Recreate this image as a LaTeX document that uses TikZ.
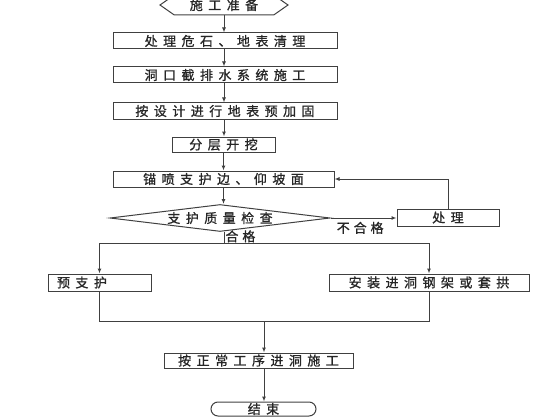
\documentclass[tikz,border=0pt]{standalone}
\usepackage{fontspec}
\usepackage{tikz}
\usetikzlibrary{shapes.geometric,shapes.symbols,shapes.misc,arrows.meta}
\newfontfamily\cjk[LetterSpace=42,FakeBold=1]{Noto Sans CJK SC}
\newfontfamily\cjklabel[LetterSpace=30,FakeBold=1]{Noto Sans CJK SC}
\begin{document}
\begin{tikzpicture}[x=1pt,y=-1pt,
    every node/.style={font=\cjk\fontsize{13}{13}\selectfont, text=black!85},
    stepbox/.style={rectangle, draw=black!75, line width=1pt, inner sep=0pt, minimum height=16},
    flow/.style={draw=black!75, line width=1pt},
    arr/.style={flow, -{Latex[length=5pt,width=4pt]}}]
    \useasboundingbox (0,0) rectangle (560,420);
                    % Nodes
                    \node[signal, signal to=west and east, signal pointer angle=70, draw=black!75, line width=1pt, minimum width=128, minimum height=20, inner sep=0pt] (start) at (224,5) {施工准备};
                    \node[stepbox, minimum width=224] (clear) at (225,41) {处理危石、地表清理};
                    \node[stepbox, minimum width=224] (drain) at (225,75) {洞口截排水系统施工};
                    \node[stepbox, minimum width=224] (reinf) at (225,111) {按设计进行地表预加固};
                    \node[stepbox, minimum width=103, minimum height=15] (dig) at (223.5,144.5) {分层开挖};
                    \node[stepbox, minimum width=221] (spray) at (223.5,179) {锚喷支护边、仰坡面};
                    \node[diamond, draw=black!75, line width=1pt, aspect=8, inner sep=0pt, minimum width=220, minimum height=27] (check) at (220,218) {支护质量检查};
                    \node[stepbox, minimum width=102, minimum height=17] (fix) at (448,217.5) {处理};
                    \node[stepbox, minimum width=103, minimum height=17, text width=85, align=left] (pre) at (99.5,282.5) {预支护};
                    \node[stepbox, minimum width=200, minimum height=17] (arch) at (429,282.5) {安装进洞钢架或套拱};
                    \node[stepbox, minimum width=189, minimum height=15] (normal) at (258.5,360.5) {按正常工序进洞施工};
                    \node[rounded rectangle, draw=black!75, line width=1pt, inner sep=0pt, minimum width=105, minimum height=14] (stop) at (263.5,409) {结束};
                    \coordinate (split) at (224,243);
                    \coordinate (join) at (264,321);
                    % Edges
                    \draw[arr] ([xshift=-1]clear.north |- start.south) -- ([xshift=-1]clear.north);
                    \draw[arr] ([xshift=-1]clear.south) -- ([xshift=-1]drain.north);
                    \draw[arr] ([xshift=-1]drain.south) -- ([xshift=-1]reinf.north);
                    \draw[arr] ([xshift=-1]reinf.south) -- ([xshift=-1]reinf.south |- dig.north);
                    \draw[arr] (dig.south) -- (spray.north);
                    \draw[arr] (spray.south) -- (spray.south |- check.north);
                    \draw[arr] (check.east) -- node[below, pos=0.45, font=\cjklabel\fontsize{13}{13}\selectfont] {不合格} (check.east -| fix.west);
                    \draw[arr] (fix.north) |- (spray.east);
                    \draw[flow] (split |- check.south) -- node[right, pos=0.4, inner sep=1pt, font=\cjklabel\fontsize{13}{13}\selectfont] {合格} (split);
                    \draw[flow] (pre.north |- split) -- (arch.north |- split);
                    \draw[arr] (pre.north |- split) -- (pre.north);
                    \draw[arr] (arch.north |- split) -- (arch.north);
                    \draw[flow] (pre.south) -- (pre.south |- join) -- (arch.south |- join) -- (arch.south);
                    \draw[arr] (join) -- (join |- normal.north);
                    \draw[arr] (join |- normal.south) -- (join |- stop.north);
\end{tikzpicture}
\end{document}
